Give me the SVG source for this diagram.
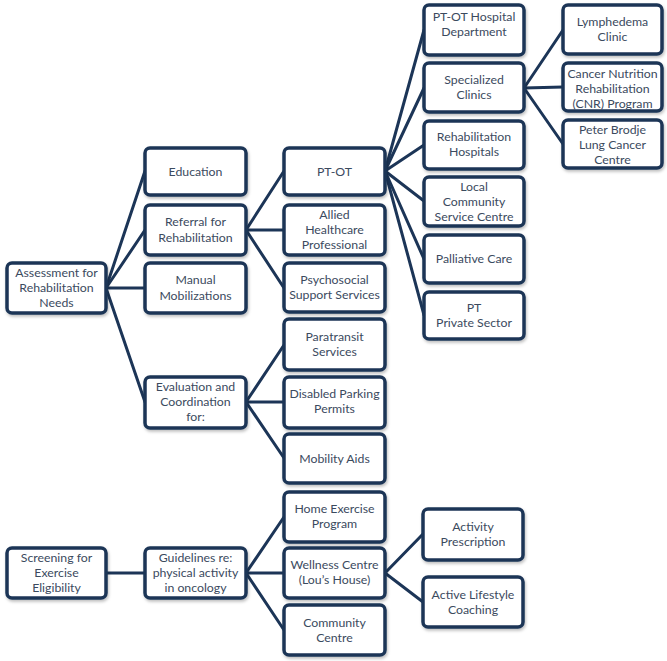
<svg xmlns="http://www.w3.org/2000/svg" width="667" height="661" viewBox="0 0 667 661">
<defs>
<filter id="sh" x="-10%" y="-10%" width="130%" height="140%">
<feDropShadow dx="1" dy="2" stdDeviation="1.5" flood-color="#000" flood-opacity="0.25"/>
</filter>
</defs>
<style>
.n rect{fill:#fff;stroke:#1c3557;stroke-width:3.5;filter:url(#sh)}
.n text{font-family:Lato,"Liberation Sans",sans-serif;font-size:12.3px;fill:#3b4a5e;text-anchor:middle}
#connectors line{stroke:#1c3557;stroke-width:3;stroke-linecap:round}
</style>
<rect width="667" height="661" fill="#fff"/>
<g id="connectors">
<line x1="106" y1="288" x2="145" y2="171"/>
<line x1="106" y1="288" x2="145" y2="230"/>
<line x1="106" y1="288" x2="145" y2="288"/>
<line x1="106" y1="288" x2="145" y2="402"/>
<line x1="246" y1="230" x2="284" y2="171"/>
<line x1="246" y1="230" x2="284" y2="230"/>
<line x1="246" y1="230" x2="284" y2="288"/>
<line x1="385" y1="171" x2="424" y2="30"/>
<line x1="385" y1="171" x2="424" y2="88"/>
<line x1="385" y1="171" x2="424" y2="145"/>
<line x1="385" y1="171" x2="424" y2="201"/>
<line x1="385" y1="171" x2="424" y2="259"/>
<line x1="385" y1="171" x2="424" y2="315"/>
<line x1="524" y1="88" x2="563" y2="30"/>
<line x1="524" y1="88" x2="563" y2="87"/>
<line x1="524" y1="88" x2="563" y2="144"/>
<line x1="246" y1="402" x2="284" y2="345"/>
<line x1="246" y1="402" x2="284" y2="402"/>
<line x1="246" y1="402" x2="284" y2="458"/>
<line x1="106" y1="573" x2="145" y2="573"/>
<line x1="246" y1="573" x2="284" y2="517"/>
<line x1="246" y1="573" x2="284" y2="573"/>
<line x1="246" y1="573" x2="284" y2="630"/>
<line x1="385" y1="573" x2="423" y2="534"/>
<line x1="385" y1="573" x2="423" y2="602"/>
</g>
<g id="assessment" class="n"><rect x="7" y="263" width="99" height="50" rx="5"/><text x="56.5" y="277">Assessment for</text><text x="56.5" y="292">Rehabilitation</text><text x="56.5" y="307">Needs</text></g>
<g id="education" class="n"><rect x="145" y="148" width="101" height="47" rx="5"/><text x="195.5" y="176">Education</text></g>
<g id="referral" class="n"><rect x="145" y="205" width="101" height="50" rx="5"/><text x="195.5" y="226">Referral for</text><text x="195.5" y="242">Rehabilitation</text></g>
<g id="manual" class="n"><rect x="145" y="263" width="101" height="50" rx="5"/><text x="195.5" y="284">Manual</text><text x="195.5" y="300">Mobilizations</text></g>
<g id="evaluation" class="n"><rect x="145" y="377" width="101" height="51" rx="5"/><text x="195.5" y="391">Evaluation and</text><text x="195.5" y="406">Coordination</text><text x="195.5" y="421">for:</text></g>
<g id="ptot" class="n"><rect x="284" y="148" width="101" height="47" rx="5"/><text x="334.5" y="176">PT-OT</text></g>
<g id="allied" class="n"><rect x="284" y="205" width="101" height="50" rx="5"/><text x="334.5" y="219">Allied</text><text x="334.5" y="234">Healthcare</text><text x="334.5" y="249">Professional</text></g>
<g id="psychosocial" class="n"><rect x="284" y="263" width="101" height="49" rx="5"/><text x="334.5" y="284">Psychosocial</text><text x="334.5" y="299">Support Services</text></g>
<g id="paratransit" class="n"><rect x="284" y="319" width="101" height="51" rx="5"/><text x="334.5" y="341">Paratransit</text><text x="334.5" y="356">Services</text></g>
<g id="parking" class="n"><rect x="284" y="377" width="101" height="51" rx="5"/><text x="334.5" y="398">Disabled Parking</text><text x="334.5" y="413">Permits</text></g>
<g id="mobility" class="n"><rect x="284" y="434" width="101" height="49" rx="5"/><text x="334.5" y="463">Mobility Aids</text></g>
<g id="homeexercise" class="n"><rect x="284" y="492" width="101" height="50" rx="5"/><text x="334.5" y="513">Home Exercise</text><text x="334.5" y="528">Program</text></g>
<g id="wellness" class="n"><rect x="284" y="548" width="101" height="50" rx="5"/><text x="334.5" y="569">Wellness Centre</text><text x="334.5" y="584">(Lou’s House)</text></g>
<g id="community" class="n"><rect x="284" y="605" width="101" height="50" rx="5"/><text x="334.5" y="627">Community</text><text x="334.5" y="642">Centre</text></g>
<g id="hospitaldept" class="n"><rect x="424" y="5" width="100" height="50" rx="5"/><text x="474" y="21">PT-OT Hospital</text><text x="474" y="36">Department</text></g>
<g id="specialized" class="n"><rect x="424" y="63" width="100" height="49" rx="5"/><text x="474" y="84">Specialized</text><text x="474" y="99">Clinics</text></g>
<g id="rehabhospitals" class="n"><rect x="424" y="121" width="100" height="48" rx="5"/><text x="474" y="141">Rehabilitation</text><text x="474" y="156">Hospitals</text></g>
<g id="localcommunity" class="n"><rect x="424" y="177" width="100" height="49" rx="5"/><text x="474" y="191">Local</text><text x="474" y="206">Community</text><text x="474" y="221">Service Centre</text></g>
<g id="palliative" class="n"><rect x="424" y="235" width="100" height="48" rx="5"/><text x="474" y="263">Palliative Care</text></g>
<g id="ptprivate" class="n"><rect x="424" y="292" width="100" height="47" rx="5"/><text x="474" y="312">PT</text><text x="474" y="327">Private Sector</text></g>
<g id="lymphedema" class="n"><rect x="563" y="5" width="99" height="49" rx="5"/><text x="612.5" y="26">Lymphedema</text><text x="612.5" y="41">Clinic</text></g>
<g id="cnr" class="n"><rect x="563" y="63" width="99" height="48" rx="5"/><text x="612.5" y="78">Cancer Nutrition</text><text x="612.5" y="93">Rehabilitation</text><text x="612.5" y="108">(CNR) Program</text></g>
<g id="peterbrodje" class="n"><rect x="563" y="120" width="99" height="48" rx="5"/><text x="612.5" y="134">Peter Brodje</text><text x="612.5" y="149">Lung Cancer</text><text x="612.5" y="164">Centre</text></g>
<g id="screening" class="n"><rect x="7" y="548" width="99" height="50" rx="5"/><text x="56.5" y="562">Screening for</text><text x="56.5" y="577">Exercise</text><text x="56.5" y="592">Eligibility</text></g>
<g id="guidelines" class="n"><rect x="145" y="548" width="101" height="50" rx="5"/><text x="195.5" y="562">Guidelines re:</text><text x="195.5" y="577">physical activity</text><text x="195.5" y="592">in oncology</text></g>
<g id="activityrx" class="n"><rect x="423" y="509" width="100" height="51" rx="5"/><text x="473" y="531">Activity</text><text x="473" y="546">Prescription</text></g>
<g id="lifestyle" class="n"><rect x="423" y="577" width="100" height="50" rx="5"/><text x="473" y="599">Active Lifestyle</text><text x="473" y="614">Coaching</text></g>
</svg>
